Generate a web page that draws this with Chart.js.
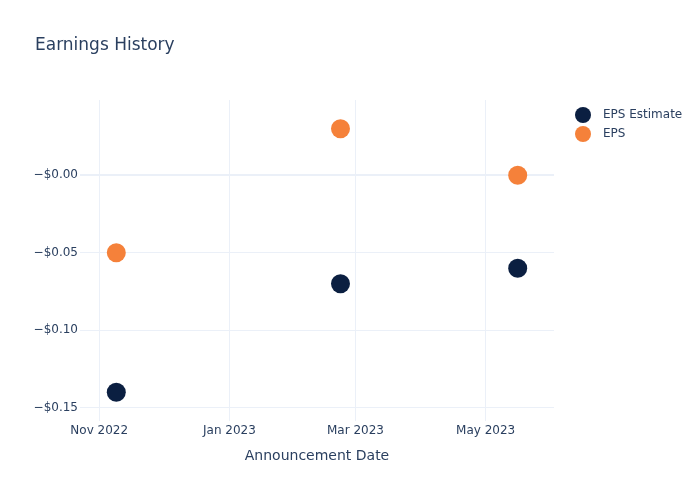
<!DOCTYPE html>
<html>
<head>
<meta charset="utf-8">
<script src="https://cdn.jsdelivr.net/npm/chart.js@4"></script>
<style>
  html, body { margin: 0; padding: 0; background: #fff; }
  #wrap { width: 700px; height: 500px; position: relative; }
</style>
</head>
<body>
<div id="wrap"><canvas id="earningsChart"></canvas></div>
<script>
// Chart data
const announceDates = ['2022-11-09', '2023-02-22', '2023-05-16'];
const epsEstimate = [-0.14, -0.07, -0.06];
const epsActual = [-0.05, 0.03, 0.00];

// Axis ticks
const xTickDates = ['2022-11-01', '2023-01-01', '2023-03-01', '2023-05-01'];
const xTickLabels = ['Nov 2022', 'Jan 2023', 'Mar 2023', 'May 2023'];
const yTickValues = [-0.15, -0.10, -0.05, 0.00];
const yTickLabels = ['\u2212$0.15', '\u2212$0.10', '\u2212$0.05', '\u2212$0.00'];

const toTime = d => new Date(d + 'T00:00:00Z').getTime();
const DAY = 86400000;

const textColor = '#2a3f5f';
const gridColor = '#ebf0f8';

// Title and legend drawn like the original
const titleLegend = {
  id: 'titleLegend',
  afterDraw(chart) {
    const ctx = chart.ctx;
    ctx.save();
    ctx.fillStyle = textColor;
    ctx.textBaseline = 'middle';
    ctx.font = '17px "DejaVu Sans", sans-serif';
    ctx.fillText('Earnings History', 35, 46);

    ctx.font = '12px "DejaVu Sans", sans-serif';
    chart.data.datasets.forEach((ds, i) => {
      const y = 115 + i * 19;
      ctx.beginPath();
      ctx.arc(583, y, 8, 0, Math.PI * 2);
      ctx.fillStyle = ds.backgroundColor;
      ctx.fill();
      ctx.fillStyle = textColor;
      ctx.fillText(ds.label, 603, y);
    });
    ctx.restore();
  }
};

const ctx = document.getElementById('earningsChart').getContext('2d');
const earningsChart = new Chart(ctx, {
  type: 'scatter',
  data: {
    datasets: [
      {
        label: 'EPS Estimate',
        data: announceDates.map((d, i) => ({ x: toTime(d), y: epsEstimate[i] })),
        backgroundColor: '#0b1f41',
        borderColor: '#0b1f41',
        pointRadius: 9.5,
        pointHoverRadius: 9.5,
        borderWidth: 0
      },
      {
        label: 'EPS',
        data: announceDates.map((d, i) => ({ x: toTime(d), y: epsActual[i] })),
        backgroundColor: '#f5813a',
        borderColor: '#f5813a',
        pointRadius: 9.5,
        pointHoverRadius: 9.5,
        borderWidth: 0
      }
    ]
  },
  options: {
    responsive: true,
    maintainAspectRatio: false,
    animation: false,
    layout: { padding: { top: 100, right: 146, left: 0, bottom: 0 } },
    plugins: {
      legend: { display: false },
      title: { display: false },
      tooltip: { enabled: false }
    },
    scales: {
      x: {
        type: 'linear',
        min: toTime('2022-11-01') - 9 * DAY,
        max: toTime('2023-05-01') + 32 * DAY,
        afterFit(scale) { scale.height = 79; },
        afterBuildTicks(scale) {
          scale.ticks = xTickDates.map(d => ({ value: toTime(d) }));
        },
        ticks: {
          color: textColor,
          padding: 3,
          maxRotation: 0,
          autoSkip: false,
          font: { family: '"DejaVu Sans", sans-serif', size: 12 },
          callback: (value) => {
            const idx = xTickDates.findIndex(d => toTime(d) === value);
            return idx >= 0 ? xTickLabels[idx] : '';
          }
        },
        grid: { color: gridColor, drawTicks: false },
        border: { display: false },
        title: {
          display: true,
          text: 'Announcement Date',
          color: textColor,
          font: { family: '"DejaVu Sans", sans-serif', size: 14 },
          padding: { top: 0, bottom: 35 }
        }
      },
      y: {
        min: -0.1586,
        max: 0.0485,
        afterFit(scale) { scale.width = 80; },
        afterBuildTicks(scale) {
          scale.ticks = yTickValues.map(v => ({ value: v }));
        },
        ticks: {
          color: textColor,
          padding: 2,
          font: { family: '"DejaVu Sans", sans-serif', size: 12 },
          callback: (value) => {
            const idx = yTickValues.findIndex(v => Math.abs(v - value) < 1e-9);
            return idx >= 0 ? yTickLabels[idx] : '';
          }
        },
        grid: {
          drawTicks: false,
          color: (c) => gridColor,
          lineWidth: (c) => (c.tick && Math.abs(c.tick.value) < 1e-9 ? 2 : 1)
        },
        border: { display: false }
      }
    }
  },
  plugins: [titleLegend]
});
</script>
</body>
</html>
